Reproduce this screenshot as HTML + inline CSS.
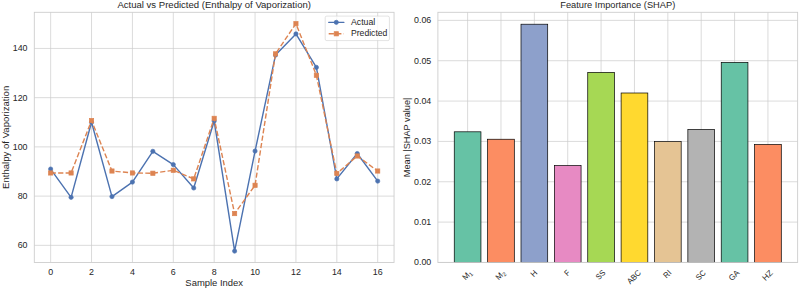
<!DOCTYPE html>
<html><head><meta charset="utf-8"><title>Actual vs Predicted and Feature Importance</title>
<style>html,body{margin:0;padding:0;background:#fff;}svg{display:block;}text{font-family:"Liberation Sans",sans-serif;}</style>
</head><body>
<svg width="799" height="289" viewBox="0 0 799 289" font-family="Liberation Sans, sans-serif" fill="#262626">
<rect width="799" height="289" fill="#fff"/>
<path d="M50.65 12.3V262.45M91.53 12.3V262.45M132.41 12.3V262.45M173.29 12.3V262.45M214.18 12.3V262.45M255.06 12.3V262.45M295.94 12.3V262.45M336.82 12.3V262.45M377.7 12.3V262.45M34.3 245.34H394.05M34.3 196.12H394.05M34.3 146.89H394.05M34.3 97.66H394.05M34.3 48.43H394.05M467.6 12.3V262.45M500.97 12.3V262.45M534.35 12.3V262.45M567.72 12.3V262.45M601.09 12.3V262.45M634.46 12.3V262.45M667.83 12.3V262.45M701.2 12.3V262.45M734.58 12.3V262.45M767.95 12.3V262.45M437.9 262.45H797.65M437.9 222.1H797.65M437.9 181.76H797.65M437.9 141.41H797.65M437.9 101.07H797.65M437.9 60.72H797.65M437.9 20.38H797.65" stroke="#cccccc" stroke-width="0.7" fill="none"/>
<rect x="454.25" y="131.81" width="26.7" height="130.64" fill="#66c2a5" stroke="#000" stroke-width="0.7"/>
<rect x="487.62" y="139.24" width="26.7" height="123.21" fill="#fc8d62" stroke="#000" stroke-width="0.7"/>
<rect x="521" y="24.21" width="26.7" height="238.24" fill="#8da0cb" stroke="#000" stroke-width="0.7"/>
<rect x="554.37" y="165.54" width="26.7" height="96.91" fill="#e78ac3" stroke="#000" stroke-width="0.7"/>
<rect x="587.74" y="72.42" width="26.7" height="190.03" fill="#a6d854" stroke="#000" stroke-width="0.7"/>
<rect x="621.11" y="93" width="26.7" height="169.45" fill="#ffd92f" stroke="#000" stroke-width="0.7"/>
<rect x="654.48" y="141.62" width="26.7" height="120.83" fill="#e5c494" stroke="#000" stroke-width="0.7"/>
<rect x="687.86" y="129.43" width="26.7" height="133.02" fill="#b3b3b3" stroke="#000" stroke-width="0.7"/>
<rect x="721.23" y="62.42" width="26.7" height="200.03" fill="#66c2a5" stroke="#000" stroke-width="0.7"/>
<rect x="754.6" y="144.44" width="26.7" height="118.01" fill="#fc8d62" stroke="#000" stroke-width="0.7"/>
<polyline points="50.65,169.04 71.09,197.35 91.53,122.27 111.97,196.61 132.41,182.09 152.85,151.32 173.29,164.61 193.73,187.99 214.18,121.04 234.62,251.08 255.06,151.07 275.5,55.08 295.94,33.91 316.38,67.38 336.82,178.89 357.26,153.53 377.7,181.1" fill="none" stroke="#4c72b0" stroke-width="1.41" stroke-linejoin="round" stroke-linecap="round"/>
<circle cx="50.65" cy="169.04" r="2.11" fill="#4c72b0" stroke="#4c72b0" stroke-width="0.7"/>
<circle cx="71.09" cy="197.35" r="2.11" fill="#4c72b0" stroke="#4c72b0" stroke-width="0.7"/>
<circle cx="91.53" cy="122.27" r="2.11" fill="#4c72b0" stroke="#4c72b0" stroke-width="0.7"/>
<circle cx="111.97" cy="196.61" r="2.11" fill="#4c72b0" stroke="#4c72b0" stroke-width="0.7"/>
<circle cx="132.41" cy="182.09" r="2.11" fill="#4c72b0" stroke="#4c72b0" stroke-width="0.7"/>
<circle cx="152.85" cy="151.32" r="2.11" fill="#4c72b0" stroke="#4c72b0" stroke-width="0.7"/>
<circle cx="173.29" cy="164.61" r="2.11" fill="#4c72b0" stroke="#4c72b0" stroke-width="0.7"/>
<circle cx="193.73" cy="187.99" r="2.11" fill="#4c72b0" stroke="#4c72b0" stroke-width="0.7"/>
<circle cx="214.18" cy="121.04" r="2.11" fill="#4c72b0" stroke="#4c72b0" stroke-width="0.7"/>
<circle cx="234.62" cy="251.08" r="2.11" fill="#4c72b0" stroke="#4c72b0" stroke-width="0.7"/>
<circle cx="255.06" cy="151.07" r="2.11" fill="#4c72b0" stroke="#4c72b0" stroke-width="0.7"/>
<circle cx="275.5" cy="55.08" r="2.11" fill="#4c72b0" stroke="#4c72b0" stroke-width="0.7"/>
<circle cx="295.94" cy="33.91" r="2.11" fill="#4c72b0" stroke="#4c72b0" stroke-width="0.7"/>
<circle cx="316.38" cy="67.38" r="2.11" fill="#4c72b0" stroke="#4c72b0" stroke-width="0.7"/>
<circle cx="336.82" cy="178.89" r="2.11" fill="#4c72b0" stroke="#4c72b0" stroke-width="0.7"/>
<circle cx="357.26" cy="153.53" r="2.11" fill="#4c72b0" stroke="#4c72b0" stroke-width="0.7"/>
<circle cx="377.7" cy="181.1" r="2.11" fill="#4c72b0" stroke="#4c72b0" stroke-width="0.7"/>
<polyline points="50.65,172.98 71.09,172.98 91.53,120.55 111.97,171.01 132.41,172.98 152.85,173.23 173.29,170.27 193.73,178.89 214.18,118.34 234.62,213.59 255.06,185.29 275.5,53.85 295.94,23.67 316.38,75.26 336.82,173.47 357.26,156 377.7,171.01" fill="none" stroke="#dd8452" stroke-width="1.41" stroke-linejoin="round" stroke-dasharray="5.22 2.26"/>
<rect x="48.54" y="170.86" width="4.23" height="4.23" fill="#dd8452" stroke="#dd8452" stroke-width="0.7"/>
<rect x="68.98" y="170.86" width="4.23" height="4.23" fill="#dd8452" stroke="#dd8452" stroke-width="0.7"/>
<rect x="89.42" y="118.44" width="4.23" height="4.23" fill="#dd8452" stroke="#dd8452" stroke-width="0.7"/>
<rect x="109.86" y="168.9" width="4.23" height="4.23" fill="#dd8452" stroke="#dd8452" stroke-width="0.7"/>
<rect x="130.3" y="170.86" width="4.23" height="4.23" fill="#dd8452" stroke="#dd8452" stroke-width="0.7"/>
<rect x="150.74" y="171.11" width="4.23" height="4.23" fill="#dd8452" stroke="#dd8452" stroke-width="0.7"/>
<rect x="171.18" y="168.16" width="4.23" height="4.23" fill="#dd8452" stroke="#dd8452" stroke-width="0.7"/>
<rect x="191.62" y="176.77" width="4.23" height="4.23" fill="#dd8452" stroke="#dd8452" stroke-width="0.7"/>
<rect x="212.06" y="116.22" width="4.23" height="4.23" fill="#dd8452" stroke="#dd8452" stroke-width="0.7"/>
<rect x="232.5" y="211.48" width="4.23" height="4.23" fill="#dd8452" stroke="#dd8452" stroke-width="0.7"/>
<rect x="252.94" y="183.17" width="4.23" height="4.23" fill="#dd8452" stroke="#dd8452" stroke-width="0.7"/>
<rect x="273.38" y="51.73" width="4.23" height="4.23" fill="#dd8452" stroke="#dd8452" stroke-width="0.7"/>
<rect x="293.82" y="21.56" width="4.23" height="4.23" fill="#dd8452" stroke="#dd8452" stroke-width="0.7"/>
<rect x="314.26" y="73.15" width="4.23" height="4.23" fill="#dd8452" stroke="#dd8452" stroke-width="0.7"/>
<rect x="334.7" y="171.36" width="4.23" height="4.23" fill="#dd8452" stroke="#dd8452" stroke-width="0.7"/>
<rect x="355.14" y="153.88" width="4.23" height="4.23" fill="#dd8452" stroke="#dd8452" stroke-width="0.7"/>
<rect x="375.58" y="168.9" width="4.23" height="4.23" fill="#dd8452" stroke="#dd8452" stroke-width="0.7"/>
<rect x="34.3" y="12.3" width="359.75" height="250.15" fill="none" stroke="#cccccc" stroke-width="0.88"/>
<rect x="437.9" y="12.3" width="359.75" height="250.15" fill="none" stroke="#cccccc" stroke-width="0.88"/>
<rect x="325.2" y="16.1" width="64.2" height="24.5" rx="1.55" fill="#fff" fill-opacity="0.8" stroke="#cccccc" stroke-opacity="0.8" stroke-width="0.7"/>
<path d="M328.7 22.35H343.9" stroke="#4c72b0" stroke-width="1.41" stroke-linecap="round"/>
<circle cx="336.3" cy="22.35" r="2.11" fill="#4c72b0" stroke="#4c72b0" stroke-width="0.7"/>
<path d="M328.7 33.8H343.9" stroke="#dd8452" stroke-width="1.41" stroke-dasharray="5.22 2.26"/>
<rect x="334.18" y="31.68" width="4.23" height="4.23" fill="#dd8452" stroke="#dd8452" stroke-width="0.7"/>
<text font-size="8.14" text-anchor="start" transform="translate(351 24.95) scale(1.0735 1)">Actual</text>
<text font-size="8.14" text-anchor="start" transform="translate(351 36.4) scale(1.0583 1)">Predicted</text>
<text font-size="8.88" text-anchor="middle" transform="translate(214.18 7.85) scale(1.0755 1)">Actual vs Predicted (Enthalpy of Vaporization)</text>
<text font-size="8.88" text-anchor="middle" transform="translate(617.77 7.85) scale(1.0450 1)">Feature Importance (SHAP)</text>
<text font-size="8.88" text-anchor="middle" transform="translate(214.18 285.7) scale(1.0623 1)">Sample Index</text>
<text font-size="8.88" text-anchor="middle" transform="translate(8.6 137.38) rotate(-90) scale(1.0807 1)">Enthalpy of Vaporization</text>
<text font-size="8.88" text-anchor="middle" transform="translate(409.5 137.38) rotate(-90) scale(1.0366 1)">Mean |SHAP value|</text>
<text font-size="8.14" text-anchor="middle" transform="translate(50.65 274.9) scale(1.0895 1)">0</text>
<text font-size="8.14" text-anchor="middle" transform="translate(91.53 274.9) scale(1.0895 1)">2</text>
<text font-size="8.14" text-anchor="middle" transform="translate(132.41 274.9) scale(1.0895 1)">4</text>
<text font-size="8.14" text-anchor="middle" transform="translate(173.29 274.9) scale(1.0895 1)">6</text>
<text font-size="8.14" text-anchor="middle" transform="translate(214.18 274.9) scale(1.0895 1)">8</text>
<text font-size="8.14" text-anchor="middle" transform="translate(255.06 274.9) scale(1.0895 1)">10</text>
<text font-size="8.14" text-anchor="middle" transform="translate(295.94 274.9) scale(1.0895 1)">12</text>
<text font-size="8.14" text-anchor="middle" transform="translate(336.82 274.9) scale(1.0895 1)">14</text>
<text font-size="8.14" text-anchor="middle" transform="translate(377.7 274.9) scale(1.0895 1)">16</text>
<text font-size="8.14" text-anchor="end" transform="translate(27.5 248.34) scale(1.0895 1)">60</text>
<text font-size="8.14" text-anchor="end" transform="translate(27.5 199.12) scale(1.0895 1)">80</text>
<text font-size="8.14" text-anchor="end" transform="translate(27.5 149.89) scale(1.0895 1)">100</text>
<text font-size="8.14" text-anchor="end" transform="translate(27.5 100.66) scale(1.0895 1)">120</text>
<text font-size="8.14" text-anchor="end" transform="translate(27.5 51.43) scale(1.0895 1)">140</text>
<text font-size="8.14" text-anchor="end" transform="translate(431.3 265.45) scale(1.0895 1)">0.00</text>
<text font-size="8.14" text-anchor="end" transform="translate(431.3 225.1) scale(1.0895 1)">0.01</text>
<text font-size="8.14" text-anchor="end" transform="translate(431.3 184.76) scale(1.0895 1)">0.02</text>
<text font-size="8.14" text-anchor="end" transform="translate(431.3 144.41) scale(1.0895 1)">0.03</text>
<text font-size="8.14" text-anchor="end" transform="translate(431.3 104.07) scale(1.0895 1)">0.04</text>
<text font-size="8.14" text-anchor="end" transform="translate(431.3 63.72) scale(1.0895 1)">0.05</text>
<text font-size="8.14" text-anchor="end" transform="translate(431.3 23.38) scale(1.0895 1)">0.06</text>
<text x="465.44" y="280.49" font-size="8.14" transform="rotate(-45 465.44 280.49)"><tspan textLength="6.69" lengthAdjust="spacingAndGlyphs">M</tspan><tspan font-size="5.7" dy="1.55">1</tspan></text>
<text x="498.81" y="280.49" font-size="8.14" transform="rotate(-45 498.81 280.49)"><tspan textLength="6.69" lengthAdjust="spacingAndGlyphs">M</tspan><tspan font-size="5.7" dy="1.55">2</tspan></text>
<text font-size="8.14" text-anchor="start" transform="translate(533.71 277.44) rotate(-45) scale(0.9917 1)">H</text>
<text font-size="8.14" text-anchor="start" transform="translate(567.57 276.47) rotate(-45) scale(0.8968 1)">F</text>
<text font-size="8.14" text-anchor="start" transform="translate(599.03 280.28) rotate(-45) scale(0.9064 1)">SS</text>
<text font-size="8.14" text-anchor="start" transform="translate(630.26 284.56) rotate(-45) scale(0.9499 1)">ABC</text>
<text font-size="8.14" text-anchor="start" transform="translate(666.55 278.74) rotate(-45) scale(0.9426 1)">RI</text>
<text font-size="8.14" text-anchor="start" transform="translate(698.98 280.63) rotate(-45) scale(0.9139 1)">SC</text>
<text font-size="8.14" text-anchor="start" transform="translate(732 281.32) rotate(-45) scale(0.9617 1)">GA</text>
<text font-size="8.14" text-anchor="start" transform="translate(765.43 281.2) rotate(-45) scale(1.0267 1)">HZ</text>
</svg>
</body></html>
